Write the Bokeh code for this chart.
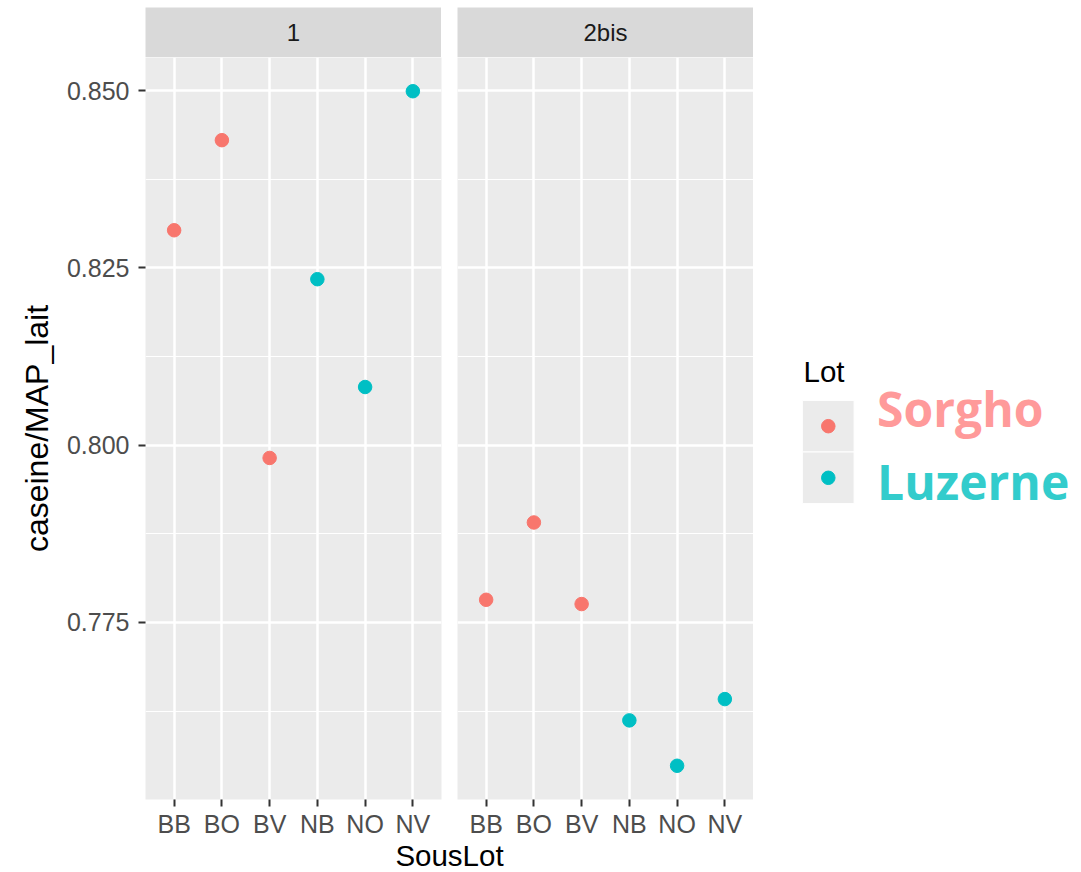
from bokeh.plotting import figure
from bokeh.models import (Range1d, FactorRange, FixedTicker, PrintfTickFormatter,
                          ColumnDataSource, Spacer)
from bokeh.layouts import row, column
from bokeh.transform import factor_cmap
from bokeh.core.properties import value
from bokeh.embed import file_html
from bokeh.resources import INLINE

# ---------------- data ----------------
souslot = ["BB", "BO", "BV", "NB", "NO", "NV"]
lot_of_souslot = ["Sorgho", "Sorgho", "Sorgho", "Luzerne", "Luzerne", "Luzerne"]
panels = ["1", "2bis"]
values_1 = [0.8303, 0.8430, 0.7982, 0.8234, 0.8082, 0.8499]
values_2bis = [0.7782, 0.7891, 0.7776, 0.7612, 0.7548, 0.7642]
lots = ["Sorgho", "Luzerne"]
lot_colors = ["#F8766D", "#00BFC4"]
label_colors = ["#FF9A9A", "#33CCCC"]
y_ticks = [0.775, 0.800, 0.825, 0.850]
y_minor = [0.7625, 0.7875, 0.8125, 0.8375]
x_title = "SousLot"
y_title = "caseine/MAP_lait"
legend_title = "Lot"

# ---------------- style ----------------
FONT = "Liberation Sans"
LAB_FONT = "Open Sans"
TOP = 7
FRAME_W = 296
FRAME_H = 742
LEFT = 145
GAP = 16
STRIP_H = 50
BOTTOM = 41
XL_H = 32
TICK_PX = "25px"
STRIP_PX = "24px"
TITLE_PX = "29.5px"
YTITLE_PX = "32px"

all_vals = values_1 + values_2bis
span = max(all_vals) - min(all_vals)
y_lo = min(all_vals) - 0.05 * span
y_hi = max(all_vals) + 0.05 * span


def make_strip(name):
    s = figure(width=FRAME_W, height=STRIP_H, x_range=Range1d(0, 1), y_range=Range1d(0, 1),
               toolbar_location=None, output_backend="svg", min_border=0,
               x_axis_location=None, y_axis_location=None,
               background_fill_color="#D9D9D9", outline_line_color=None)
    s.grid.visible = False
    s.text(x=[0.5], y=[0.5], text=[name], text_align="center", text_baseline="middle",
           text_font=value(FONT), text_font_size=STRIP_PX, text_color="#1A1A1A")
    return s


def make_panel(vals, first):
    kw = dict(min_border_left=LEFT, min_border_right=GAP // 2) if first else \
        dict(min_border_left=GAP // 2, min_border_right=0, y_axis_location=None)
    width = (LEFT + FRAME_W + GAP // 2) if first else (GAP // 2 + FRAME_W)
    p = figure(width=width, height=FRAME_H + BOTTOM,
               x_range=FactorRange(factors=souslot, range_padding=1 / 30),
               y_range=Range1d(y_lo, y_hi),
               toolbar_location=None, output_backend="svg",
               min_border_top=0, min_border_bottom=BOTTOM,
               background_fill_color="#EBEBEB", outline_line_color=None, **kw)
    src = ColumnDataSource(dict(x=souslot, y=vals, lot=lot_of_souslot))
    p.scatter(x="x", y="y", source=src, size=13.5,
              color=factor_cmap("lot", lot_colors, lots))
    ticker = FixedTicker(ticks=y_ticks, minor_ticks=y_minor)
    p.ygrid.ticker = ticker
    for g in (p.xgrid, p.ygrid):
        g.grid_line_color = "white"
        g.grid_line_width = 2.5
    p.ygrid.minor_grid_line_color = "white"
    p.ygrid.minor_grid_line_width = 1.2
    axes = [p.xaxis[0]] + ([p.yaxis[0]] if first else [])
    for ax in axes:
        ax.axis_line_color = None
        ax.major_tick_line_color = "#333333"
        ax.major_tick_line_width = 2
        ax.major_tick_out = 7
        ax.major_tick_in = 0
        ax.minor_tick_line_color = None
        ax.major_label_text_font = FONT
        ax.major_label_text_font_size = TICK_PX
        ax.major_label_text_color = "#4D4D4D"
    p.xaxis.major_label_standoff = 3
    if first:
        p.yaxis.ticker = ticker
        p.yaxis.formatter = PrintfTickFormatter(format="%.3f")
        p.yaxis.major_label_standoff = 9
        p.yaxis.axis_label = y_title
        p.yaxis.axis_label_text_font = FONT
        p.yaxis.axis_label_text_font_size = YTITLE_PX
        p.yaxis.axis_label_text_font_style = "normal"
        p.yaxis.axis_label_text_color = "black"
        p.yaxis.axis_label_standoff = 9
    return p


strip1 = make_strip(panels[0])
strip2 = make_strip(panels[1])
p1 = make_panel(values_1, True)
p2 = make_panel(values_2bis, False)

# x title (centred under both panels)
xl = figure(width=2 * FRAME_W + GAP, height=XL_H, x_range=Range1d(0, 1), y_range=Range1d(0, 1),
            toolbar_location=None, output_backend="svg", min_border=0,
            x_axis_location=None, y_axis_location=None, outline_line_color=None)
xl.grid.visible = False
xl.text(x=[0.5], y=[0.5], text=[x_title], text_align="center", text_baseline="middle",
        y_offset=-1, text_font=value(FONT), text_font_size=TITLE_PX, text_color="black")

# legend
LEG_W = 1081 - (LEFT + 2 * FRAME_W + GAP)
LEG_LEFT = 49
KEY_PX = 51.6
LEG_PAD = 1.16
LEG_TOP = 340
leg = figure(width=LEG_W, height=round(2 * (1 + LEG_PAD) * KEY_PX),
             x_range=Range1d(0, (LEG_W - LEG_LEFT) / KEY_PX),
             y_range=FactorRange(factors=lots[::-1], range_padding=LEG_PAD),
             toolbar_location=None, output_backend="svg",
             min_border_left=LEG_LEFT, min_border_right=0, min_border_top=0,
             min_border_bottom=0, x_axis_location=None, y_axis_location=None,
             outline_line_color=None)
leg.grid.visible = False
leg.rect(x=0.5, y=lots, width=1, height=1, fill_color="#EBEBEB", line_color="white", line_width=1)
leg.scatter(x=0.5, y=lots, color=lot_colors, size=13.5)
leg.text(x=[0], y=[lots[0]], text=[legend_title], text_align="left", text_baseline="middle",
         x_offset=1, y_offset=-55, text_font=value(FONT), text_font_size=TITLE_PX,
         text_color="black")
label_offsets = [-18, 4]
for i in range(len(lots)):
    leg.text(x=[1], y=[lots[i]], text=[lots[i]], text_color=label_colors[i],
             x_offset=23, y_offset=label_offsets[i], text_baseline="middle",
             text_font=value(LAB_FONT), text_font_style="bold", text_font_size="48px")

left_col = column(
    Spacer(width=LEFT + 2 * FRAME_W + GAP, height=TOP),
    row(Spacer(width=LEFT, height=STRIP_H), strip1, Spacer(width=GAP, height=STRIP_H), strip2),
    row(p1, p2),
    row(Spacer(width=LEFT, height=XL_H), xl),
)
right_col = column(Spacer(width=LEG_W, height=LEG_TOP), leg)
layout = row(left_col, right_col)

open("out.html", "w").write(file_html(layout, INLINE))
